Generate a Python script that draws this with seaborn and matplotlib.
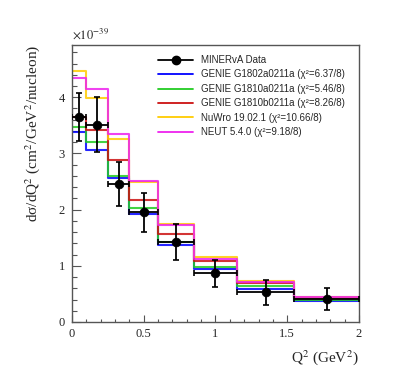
import matplotlib
matplotlib.use('Agg')
import matplotlib.pyplot as plt
from matplotlib.lines import Line2D
from matplotlib.ticker import MultipleLocator, FormatStrFormatter
import seaborn as sns
import numpy as np
import pandas as pd

# Q2 bins (GeV^2) and cross sections (x 1e-39 cm^2/GeV^2/nucleon)
edges = [0.0, 0.1, 0.25, 0.4, 0.6, 0.85, 1.15, 1.55, 2.0]
data_xsec = [3.65, 3.51, 2.46, 1.95, 1.42, 0.87, 0.53, 0.41]
data_err = [0.43, 0.49, 0.39, 0.35, 0.32, 0.24, 0.22, 0.20]

genie_1802a = [3.38, 3.06, 2.57, 1.92, 1.37, 0.94, 0.59, 0.37]
genie_1810a = [3.47, 3.20, 2.60, 2.02, 1.43, 0.97, 0.64, 0.39]
genie_1810b = [3.64, 3.42, 2.88, 2.18, 1.57, 1.09, 0.69, 0.42]
nuwro = [4.47, 3.99, 3.25, 2.49, 1.74, 1.16, 0.73, 0.45]
neut = [4.34, 4.15, 3.34, 2.51, 1.73, 1.13, 0.71, 0.44]

model_labels = [
    'GENIE G1802a0211a (χ²=6.37/8)',
    'GENIE G1810a0211a (χ²=5.46/8)',
    'GENIE G1810b0211a (χ²=8.26/8)',
    'NuWro 19.02.1 (χ²=10.66/8)',
    'NEUT 5.4.0 (χ²=9.18/8)',
]
model_values = [genie_1802a, genie_1810a, genie_1810b, nuwro, neut]
model_colors = ['#0000ff', '#22cc22', '#cc1111', '#ffcc00', '#ee22ee']

sns.set_style('ticks')
plt.rcParams['font.family'] = ['Liberation Serif', 'DejaVu Serif']
plt.rcParams['mathtext.fontset'] = 'stix'

edges_arr = np.array(edges)
centers = (edges_arr[:-1] + edges_arr[1:]) / 2
half_w = (edges_arr[1:] - edges_arr[:-1]) / 2

fig = plt.figure(figsize=(3.99, 3.79), dpi=100)
ax = fig.add_axes([0.1805, 0.1504, 0.7192, 0.7309])

# model histograms, drawn in legend order (NEUT ends up on top)
for vals, col in zip(model_values, model_colors):
    df = pd.DataFrame({'q2': centers, 'xsec': vals})
    sns.histplot(data=df, x='q2', weights='xsec', bins=edges, element='step',
                 fill=False, color=col, linewidth=1.5, alpha=0.85, ax=ax)

data_df = pd.DataFrame({'q2': centers, 'xsec': data_xsec})
ax.errorbar(centers, data_xsec, xerr=half_w, yerr=data_err, fmt='none',
            ecolor='black', elinewidth=1.3, capsize=2, capthick=1.2, zorder=5)
sns.scatterplot(data=data_df, x='q2', y='xsec', color='black', s=40,
                edgecolor='black', zorder=6, ax=ax)

ax.set_xlim(0, 2)
ax.set_ylim(0, 4.93)
ax.xaxis.set_major_locator(MultipleLocator(0.5))
ax.xaxis.set_minor_locator(MultipleLocator(0.1))
ax.yaxis.set_major_locator(MultipleLocator(1))
ax.yaxis.set_minor_locator(MultipleLocator(0.2))
ax.xaxis.set_major_formatter(FormatStrFormatter('%g'))
ax.yaxis.set_major_formatter(FormatStrFormatter('%g'))
ax.tick_params(axis='x', which='major', direction='in', length=5, width=0.8,
               color='#555555', labelsize=9, pad=4.5)
ax.tick_params(axis='x', which='minor', direction='in', length=2.5, width=0.8,
               color='#555555')
ax.tick_params(axis='y', which='major', direction='in', length=6.5, width=0.8,
               color='#555555', labelsize=9, pad=5)
ax.tick_params(axis='y', which='minor', direction='in', length=3.5, width=0.8,
               color='#555555')
for sp in ax.spines.values():
    sp.set_color('#555555')
    sp.set_linewidth(1)

ax.set_xlabel(r'Q$^2$ (GeV$^2$)', fontsize=11, ha='right')
ax.xaxis.set_label_coords(1.0, -0.095)
ax.set_ylabel(r'dσ/dQ$^2$ (cm$^2$/GeV$^2$/nucleon)', fontsize=11, ha='right')
ax.yaxis.set_label_coords(-0.105, 1.0)
ax.text(0.0, 1.012, r'$\times10^{-39}$', transform=ax.transAxes, fontsize=9,
        ha='left', va='bottom')

handles = [Line2D([], [], color='black', marker='o', markersize=6, lw=1.3)]
handles += [Line2D([], [], color=c, lw=1.3) for c in model_colors]
labels = ['MINERvA Data'] + model_labels
ax.legend(handles, labels, loc='upper left', frameon=False,
          bbox_to_anchor=(158 / 399, 1 - 55 / 379), bbox_transform=fig.transFigure,
          borderaxespad=0, borderpad=0, handlelength=3.6, handletextpad=0.8,
          labelspacing=0.46, prop={'family': 'Liberation Sans', 'size': 7})

fig.savefig('out.png', dpi=100)
